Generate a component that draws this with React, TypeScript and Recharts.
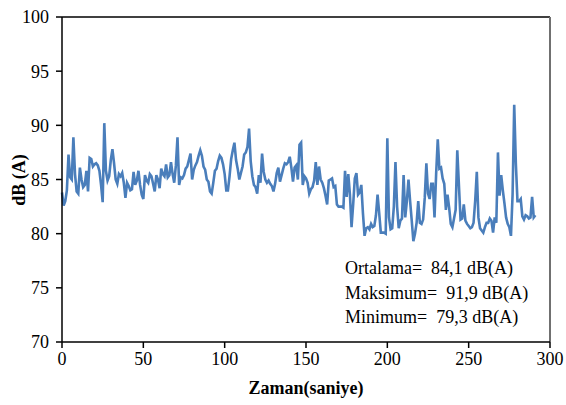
import React from 'react';
import { LineChart, Line, XAxis, YAxis, ReferenceLine } from 'recharts';

// dB(A) level, one reading per second starting at t = 0
const levels: number[] = [
  83.8, 82.6, 83.0, 84.0, 87.3, 85.2, 85.0, 88.9, 85.5, 83.9,
  83.7, 86.1, 85.0, 84.3, 84.5, 85.8, 83.9, 87.0, 86.9, 86.2,
  86.4, 86.5, 86.3, 85.8, 84.5, 82.9, 90.2, 85.8, 84.9, 85.3,
  86.8, 87.8, 86.5, 85.0, 84.6, 85.5, 85.3, 85.6, 84.7, 83.3,
  84.7, 84.4, 84.0, 84.1, 85.7, 84.5, 84.9, 85.8, 84.5, 83.6,
  83.2, 85.4, 84.9, 84.7, 85.5, 85.3, 84.6, 83.9, 85.4, 85.0,
  84.2, 86.0, 85.5, 85.3, 86.4, 85.2, 85.4, 86.6, 85.5, 84.7,
  86.3, 88.9, 84.5, 85.2, 85.1, 85.4, 86.0, 86.2, 86.8, 87.4,
  85.0, 85.9, 86.3, 86.6, 87.2, 87.7, 87.2, 86.2, 85.9, 85.0,
  84.8, 83.9, 83.7, 84.7, 85.8, 86.0, 86.7, 87.2, 87.0, 86.4,
  85.5, 84.0, 84.0, 85.3, 86.9, 87.7, 88.4, 86.8, 86.0, 85.0,
  85.6, 86.2, 87.3, 87.5, 88.0, 89.7, 86.7, 85.3, 84.5, 84.3,
  83.7, 85.4, 84.7, 87.4, 85.7, 85.0, 84.7, 84.9, 84.6, 84.4,
  83.9, 84.6, 85.6, 86.1, 84.8, 85.4, 86.0, 86.5, 86.4, 86.6,
  87.1, 86.1, 84.8, 86.1, 86.3, 85.0, 88.2, 88.4, 84.5, 85.3,
  85.1, 84.7, 83.7, 84.1, 84.3, 84.9, 86.6, 84.5, 86.2, 85.0,
  84.7, 84.2, 83.5, 82.7, 84.9, 85.0, 85.1, 84.3, 84.4, 82.7,
  82.5, 82.5, 82.5, 82.4, 85.8, 83.4, 85.5, 83.6, 80.6, 82.7,
  85.1, 85.6, 83.6, 83.8, 84.5, 81.9, 79.8, 80.5, 80.6, 80.4,
  80.9, 80.6, 80.7, 81.7, 83.6, 81.9, 80.1, 80.1, 80.1, 80.0,
  88.8, 81.5, 80.4, 80.5, 82.5, 86.6, 82.5, 80.5, 81.2, 81.4,
  85.4, 81.5, 83.0, 85.0, 83.0, 81.2, 79.3, 80.0, 81.0, 83.0,
  81.0, 80.9, 81.3, 83.3, 86.5, 83.7, 83.2, 84.6, 84.6, 81.5,
  85.5, 88.7, 86.0, 86.1, 85.1, 84.6, 82.2, 83.6, 82.4, 80.9,
  80.6, 81.4, 82.2, 87.7, 84.5, 81.3, 81.4, 82.7, 81.2, 80.9,
  80.7, 80.5, 80.6, 81.0, 83.0, 85.7, 81.5, 80.5, 80.3, 80.1,
  80.6, 81.0, 81.0, 81.4, 81.2, 80.1, 81.5, 81.0, 87.5, 83.5,
  85.4, 84.0, 82.8, 81.5, 80.9, 80.6, 79.8, 83.6, 91.9, 86.5,
  83.0, 83.0, 83.2, 81.6, 81.3, 81.7, 81.6, 81.4, 81.5, 83.4,
  81.5, 81.7,
];

const xTicks: number[] = [0, 50, 100, 150, 200, 250, 300];
const yTicks: number[] = [70, 75, 80, 85, 90, 95, 100];
const statLines: string[] = [
  'Ortalama=  84,1 dB(A)',
  'Maksimum=  91,9 dB(A)',
  'Minimum=  79,3 dB(A)',
];
const xTitle = 'Zaman(saniye)';
const yTitle = 'dB (A)';

const data = levels.map((v, i) => ({ t: i, db: v }));

const FONT = 'Liberation Serif, serif';

export default function App() {
  return (
    <div style={{ position: 'absolute', left: 0, top: 0, width: 566, height: 405, background: '#fff', fontFamily: FONT }}>
      <LineChart
        width={566}
        height={405}
        data={data}
        margin={{ top: 17, right: 16, bottom: 33, left: 12 }}
        style={{ fontFamily: FONT }}
      >
        <XAxis
          dataKey="t"
          type="number"
          domain={[0, 300]}
          ticks={xTicks}
          interval={0}
          height={30}
          axisLine={{ stroke: '#000', strokeWidth: 1.5 }}
          tickLine={{ stroke: '#000', strokeWidth: 1.5 }}
          tickSize={6}
          tickMargin={4}
          tick={{ fill: '#000', fontSize: 18, fontFamily: FONT }}
        />
        <YAxis
          type="number"
          domain={[70, 100]}
          ticks={yTicks}
          interval={0}
          width={50}
          axisLine={{ stroke: '#000', strokeWidth: 1.5 }}
          tickLine={{ stroke: '#000', strokeWidth: 1.5 }}
          tickSize={6}
          tickMargin={7}
          tick={{ fill: '#000', fontSize: 18, fontFamily: FONT }}
        />
        <ReferenceLine y={100} stroke="#000" strokeWidth={1.5} />
        <ReferenceLine x={300} stroke="#707070" strokeWidth={2} />
        <Line
          type="linear"
          dataKey="db"
          stroke="#4A7EBB"
          strokeWidth={2.6}
          dot={false}
          isAnimationActive={false}
        />
      </LineChart>
      <div
        style={{
          position: 'absolute',
          left: 306,
          top: 388,
          transform: 'translate(-50%, -50%)',
          fontWeight: 'bold',
          fontSize: 18,
          whiteSpace: 'nowrap',
          color: '#000',
        }}
      >
        {xTitle}
      </div>
      <div
        style={{
          position: 'absolute',
          left: 19,
          top: 180,
          transform: 'translate(-50%, -50%) rotate(-90deg)',
          fontWeight: 'bold',
          fontSize: 18,
          whiteSpace: 'nowrap',
          color: '#000',
        }}
      >
        {yTitle}
      </div>
      <div style={{ position: 'absolute', left: 345, top: 256, fontSize: 18, lineHeight: '24.5px', color: '#000', whiteSpace: 'pre' }}>
        {statLines.map((s) => (
          <div key={s}>{s}</div>
        ))}
      </div>
    </div>
  );
}
